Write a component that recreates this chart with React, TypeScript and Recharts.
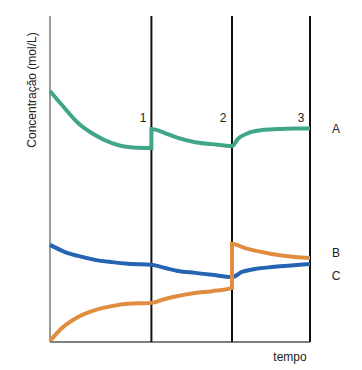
import { LineChart, Line, XAxis, YAxis, ReferenceLine } from 'recharts'

// tempo (0-100) and concentração (0-10)
const serieA: [number, number][] = [
  [0, 7.7], [4.6, 7.27], [10.8, 6.72], [17.3, 6.35], [23.8, 6.1], [30, 5.98], [36.5, 5.95], [39, 5.95],
  [39, 6.53], [44.2, 6.41], [49.2, 6.26], [55.8, 6.13], [62.3, 6.07], [70, 6.01],
  [72.3, 6.23], [76.2, 6.41], [81.5, 6.5], [87.7, 6.53], [94.2, 6.55], [100, 6.55],
]
const serieB: [number, number][] = [
  [0, 0.03], [4.6, 0.43], [10.8, 0.77], [17.3, 0.98], [23.8, 1.1], [30, 1.17], [39, 1.2],
  [44.2, 1.32], [49.2, 1.41], [55.8, 1.5], [62.3, 1.56], [70, 1.66],
  [70, 3.01], [75, 2.88], [81.5, 2.76], [87.7, 2.67], [94.2, 2.61], [100, 2.58],
]
const serieC: [number, number][] = [
  [0, 2.98], [5.8, 2.76], [10.8, 2.64], [17.3, 2.52], [23.8, 2.45], [30, 2.4], [39, 2.37],
  [44.2, 2.27], [49.2, 2.18], [55.8, 2.12], [62.3, 2.06], [70, 1.99],
  [73.8, 2.15], [78.8, 2.24], [85.4, 2.3], [91.5, 2.34], [100, 2.39],
]
const eventos = [39, 70, 100]
const eventoLabels = ['1', '2', '3']

const toRows = (s: [number, number][]) => s.map(([t, v]) => ({ t, v }))

const font = '"Liberation Sans", Arial, sans-serif'

export default function App() {
  const txt = (left: number, top: number, s: string) => (
    <div
      key={s + left}
      style={{
        position: 'absolute',
        left,
        top,
        transform: 'translate(-50%, -50%)',
        fontFamily: font,
        fontSize: 12,
        color: '#222',
        whiteSpace: 'nowrap',
      }}
    >
      {s}
    </div>
  )

  return (
    <div style={{ position: 'absolute', left: 0, top: 0, width: 362, height: 370, background: '#fff' }}>
      <LineChart width={362} height={370} margin={{ top: 16, right: 52, bottom: 28, left: 50 }}>
        <XAxis type="number" dataKey="t" domain={[0, 100]} hide />
        <YAxis type="number" domain={[0, 10]} hide />
        <ReferenceLine x={0} stroke="#7a7a7a" strokeWidth={1.5} />
        <ReferenceLine y={0} stroke="#555" strokeWidth={1.5} />
        {eventos.map((x) => (
          <ReferenceLine key={x} x={x} stroke="#111" strokeWidth={2} />
        ))}
        <Line data={toRows(serieA)} dataKey="v" type="monotone" stroke="#3fa689" strokeWidth={4} dot={false} isAnimationActive={false} />
        <Line data={toRows(serieC)} dataKey="v" type="monotone" stroke="#2563b3" strokeWidth={4} dot={false} isAnimationActive={false} />
        <Line data={toRows(serieB)} dataKey="v" type="monotone" stroke="#e08d40" strokeWidth={4} dot={false} isAnimationActive={false} />
      </LineChart>
      {eventoLabels.map((s, i) => txt([143, 223, 301][i], 118, s))}
      {txt(336, 129, 'A')}
      {txt(336, 253, 'B')}
      {txt(336, 276, 'C')}
      {txt(290, 357, 'tempo')}
      <div
        style={{
          position: 'absolute',
          left: 32,
          top: 90,
          transform: 'translate(-50%, -50%) rotate(-90deg)',
          fontFamily: font,
          fontSize: 12,
          color: '#222',
          whiteSpace: 'nowrap',
        }}
      >
        Concentração (mol/L)
      </div>
    </div>
  )
}
